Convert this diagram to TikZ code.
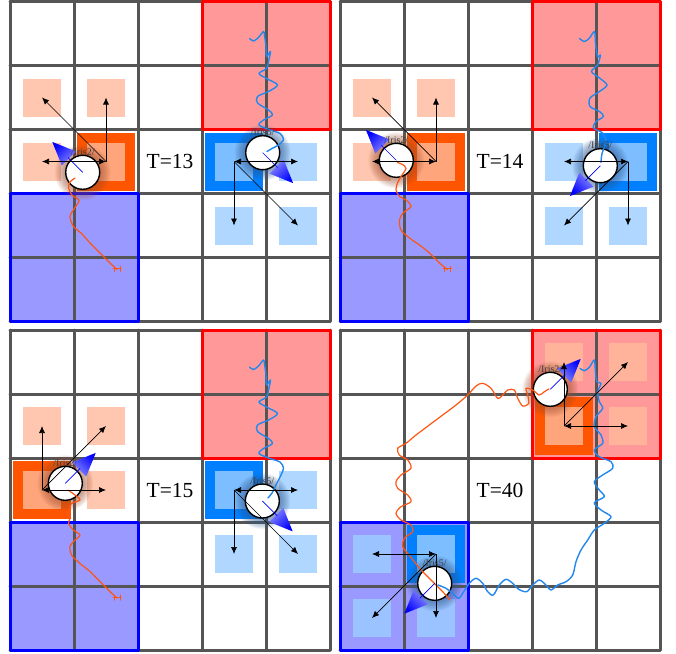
\documentclass[tikz,border=0pt]{standalone}
\usepackage{fontspec}
\setmainfont{Liberation Serif}
\usetikzlibrary{arrows.meta,calc}
\definecolor{gridc}{HTML}{555555}
\definecolor{redreg}{HTML}{FF9999}
\definecolor{bluereg}{HTML}{9999FF}
\definecolor{orcell}{HTML}{FF5500}
\definecolor{blcell}{HTML}{0080FF}
\definecolor{orlight}{HTML}{FFBA9C}
\definecolor{bllight}{HTML}{9CCEFF}
\definecolor{ortraj}{HTML}{FF5511}
\definecolor{bltraj}{HTML}{2288EE}
\definecolor{orhalo}{HTML}{A05030}
\definecolor{blhalo}{HTML}{305890}
\tikzset{
  gridline/.style={draw=gridc, line width=3pt, line cap=round},
  regborder/.style={line width=3pt, line join=round},
  act/.style={-{Latex[length=7pt,width=6pt]}, line width=0.7pt},
  actboth/.style={{Latex[length=7pt,width=6pt]}-{Latex[length=7pt,width=6pt]}, line width=0.7pt},
  agent/.style={circle, draw=black, fill=white, line width=1.4pt, minimum size=34pt, inner sep=0pt},
  namelabel/.style={font=\fontsize{10}{10}\selectfont, text=black!75, inner sep=0pt},
  tlabel/.style={font=\fontsize{21.5}{22}\selectfont, inner sep=0pt},
  otraj/.style={draw=ortraj, line width=1.2pt, line join=round, line cap=round},
  btraj/.style={draw=bltraj, line width=1.4pt, line join=round, line cap=round},
}
\newcommand{\regions}{%
  \fill[redreg] (192,0) rectangle (320,128);
  \fill[bluereg] (0,192) rectangle (128,320);}
\newcommand{\acell}[3]{\fill[#1] ({#2*64+3},{#3*64+3}) rectangle ({#2*64+61},{#3*64+61});}
\newcommand{\lsq}[3]{\fill[#1, opacity=0.8] ({#2*64+13},{#3*64+13}) rectangle ({#2*64+51},{#3*64+51});}
\newcommand{\gridandborders}{%
  \foreach \k in {0,...,5}{\draw[gridline] ({\k*64},0) -- ({\k*64},320); \draw[gridline] (0,{\k*64}) -- (320,{\k*64});}
  \draw[regborder, draw=red] (192,0) rectangle (320,128);
  \draw[regborder, draw=blue] (0,192) rectangle (128,320);}
\newcommand{\cellcoords}[1]{\foreach \i in {0,...,4}{\foreach \j in {0,...,4}{\coordinate (#1\i\j) at ({\i*64+32},{\j*64+32});}}}
\newcommand{\halo}[2]{\foreach \r in {18,...,28}{\fill[#2, opacity=0.07] (#1) circle[radius=\r pt];}}
\newcommand{\heading}[3]{%
  \shade[top color=blue, bottom color=blue!45, shading angle=#3] ($(#1.center)+(#2:43)$) -- ($(#1.center)+({#2+27}:22)$) -- ($(#1.center)+({#2-27}:22)$) -- cycle;
  \draw[blue, line width=0.7pt] (#1.center) -- ($(#1.center)+(#2:21)$);}
\newcommand{\omark}{\draw[otraj, line width=1pt] (103,267) -- (111,267) (104,267) -- (104,270) (110,265) -- (110,270);}
\begin{document}
\begin{tikzpicture}[x=1pt,y=-1pt]
\useasboundingbox (0,0) rectangle (676,653);
\fill[white] (0,0) rectangle (676,653);
%%%%%%%% Panel A : T=13
\begin{scope}[shift={(10,1.5)}]
  \regions
  \acell{orcell}{1}{2} \acell{blcell}{3}{2}
  \lsq{orlight}{0}{1} \lsq{orlight}{1}{1} \lsq{orlight}{0}{2} \lsq{orlight}{1}{2}
  \lsq{bllight}{4}{2} \lsq{bllight}{3}{3} \lsq{bllight}{4}{3} \lsq{bllight}{3}{2}
  \gridandborders
  \cellcoords{A}
  \coordinate (Aoc) at (72.7,170.8); \coordinate (Abc) at (252.7,151.2);
  \halo{Aoc}{orhalo} \halo{Abc}{blhalo}
  \node[agent] (Ao) at (Aoc) {};
  \node[agent] (Ab) at (Abc) {};
  \omark
  \draw[otraj] plot[smooth] coordinates {(107,268) (100,261.5) (90,251.5) (80,241.5) (71.5,232) (63.5,225) (60,215) (65,206) (69,199) (62,193.5) (58.5,186) (60,180.5) (65,176.5)};
  \draw[btraj] plot[smooth] coordinates {(239.5,37) (243.5,39.5) (248.5,36) (253.5,30) (254.5,34) (256,45) (256.5,55) (260.5,50) (258.5,60) (256.5,67) (249,72) (256.5,77) (267.5,83.5) (258.5,90) (247.5,95) (247.5,101.5) (258.5,108.5) (262.5,113.5) (253.5,118.5) (249,123.5) (260,128.5) (270,132) (273.5,138) (268.5,143.5) (262,147) (257,150)};
  \heading{Ao}{225}{45}
  \heading{Ab}{45}{-135}
  \draw[act] (A12) -- (A01);
  \draw[act] (A12) -- (A11);
  \draw[actboth] (A02) -- (A12);
  \draw[act] (A32) -- (A33);
  \draw[act] (A32) -- (A43);
  \draw[actboth] (A32) -- (A42);
  \node[namelabel] (AoL) at ($(Ao.center)+(0,-20)$) {/Iris2/};
  \node[namelabel] (AbL) at ($(Ab.center)+(0,-20)$) {/Iris5/};
  \node[tlabel] (AT) at (A22) {T=13};
\end{scope}
%%%%%%%% Panel B : T=14
\begin{scope}[shift={(340,1.5)}]
  \regions
  \acell{orcell}{1}{2} \acell{blcell}{4}{2}
  \lsq{orlight}{0}{1} \lsq{orlight}{1}{1} \lsq{orlight}{0}{2} \lsq{orlight}{1}{2}
  \lsq{bllight}{3}{2} \lsq{bllight}{3}{3} \lsq{bllight}{4}{3} \lsq{bllight}{4}{2}
  \gridandborders
  \cellcoords{B}
  \coordinate (Boc) at (56.3,158.8); \coordinate (Bbc) at (260.3,164.2);
  \halo{Boc}{orhalo} \halo{Bbc}{blhalo}
  \node[agent] (Bo) at (Boc) {};
  \node[agent] (Bb) at (Bbc) {};
  \omark
  \draw[otraj] plot[smooth] coordinates {(107.5,268) (99.5,261.5) (89.5,251.5) (79.5,243.5) (69.5,236.5) (61,228.5) (59.5,218.5) (63,211.5) (71,205) (66,198.5) (59.5,195) (56,188.5) (57.5,181.5) (61,175) (66,167) (62.5,163) (57.5,161)};
  \draw[btraj] plot[smooth] coordinates {(239.5,37) (244.5,40) (249.5,36.5) (254.5,30) (255.5,41.5) (257.5,55) (260.5,53.5) (257.5,63.5) (251.5,70) (259.5,76.5) (267,83.5) (259.5,90) (250,96.5) (250,105) (259.5,110) (263.5,115) (256,120) (253.5,126.5) (262.5,131.5) (266,140) (262,152) (261,161)};
  \heading{Bo}{225}{45}
  \heading{Bb}{135}{135}
  \draw[act] (B12) -- (B01);
  \draw[act] (B12) -- (B11);
  \draw[actboth] (B02) -- (B12);
  \draw[act] (B42) -- (B33);
  \draw[act] (B42) -- (B43);
  \draw[actboth] (B32) -- (B42);
  \node[namelabel] (BoL) at ($(Bo.center)+(0,-20)$) {/Iris2/};
  \node[namelabel] (BbL) at ($(Bb.center)+(0,-20)$) {/Iris5/};
  \node[tlabel] (BT) at (B22) {T=14};
\end{scope}
%%%%%%%% Panel C : T=15
\begin{scope}[shift={(10,330)}]
  \regions
  \acell{orcell}{0}{2} \acell{blcell}{3}{2}
  \lsq{orlight}{0}{1} \lsq{orlight}{1}{1} \lsq{orlight}{1}{2} \lsq{orlight}{0}{2}
  \lsq{bllight}{4}{2} \lsq{bllight}{3}{3} \lsq{bllight}{4}{3} \lsq{bllight}{3}{2}
  \gridandborders
  \cellcoords{C}
  \coordinate (Coc) at (55.3,153.3); \coordinate (Cbc) at (252.3,171);
  \halo{Coc}{orhalo} \halo{Cbc}{blhalo}
  \node[agent] (Co) at (Coc) {};
  \node[agent] (Cb) at (Cbc) {};
  \omark
  \draw[otraj] plot[smooth] coordinates {(107,268) (100,261.5) (90,251.5) (80,241.5) (70,233.5) (61.5,225) (60,216.5) (65,210) (70,205) (63.5,200) (58.5,193.5) (60,188.5) (58.5,181.5) (61.5,173.5) (70,170) (65,165) (58,160)};
  \draw[btraj] plot[smooth] coordinates {(239.5,37) (243.5,39.5) (248.5,36) (253.5,30) (254.5,34) (256,45) (256.5,55) (260.5,50) (258.5,60) (256.5,67) (249,72) (256.5,77) (267.5,83.5) (258.5,90) (247.5,95) (247.5,101.5) (258.5,108.5) (262.5,113.5) (253.5,118.5) (249,123.5) (260,128.5) (270,132) (273.5,138) (271,145) (266,155) (262,163) (258,168)};
  \heading{Co}{315}{-45}
  \heading{Cb}{45}{-135}
  \draw[act] (C02) -- (C01);
  \draw[act] (C02) -- (C11);
  \draw[actboth] (C02) -- (C12);
  \draw[act] (C32) -- (C33);
  \draw[act] (C32) -- (C43);
  \draw[actboth] (C32) -- (C42);
  \node[namelabel] (CoL) at ($(Co.center)+(0,-20)$) {/Iris2/};
  \node[namelabel] (CbL) at ($(Cb.center)+(0,-20)$) {/Iris5/};
  \node[tlabel] (CT) at (C22) {T=15};
\end{scope}
%%%%%%%% Panel D : T=40
\begin{scope}[shift={(340,330)}]
  \regions
  \acell{orcell}{3}{1} \acell{blcell}{1}{3}
  \lsq{orlight}{3}{0} \lsq{orlight}{4}{0} \lsq{orlight}{4}{1} \lsq{orlight}{3}{1}
  \lsq{bllight}{0}{3} \lsq{bllight}{0}{4} \lsq{bllight}{1}{4} \lsq{bllight}{1}{3}
  \gridandborders
  \cellcoords{D}
  \coordinate (Doc) at (210.3,59.3); \coordinate (Dbc) at (94.7,253.3);
  \halo{Doc}{orhalo} \halo{Dbc}{blhalo}
  \node[agent] (Do) at (Doc) {};
  \node[agent] (Db) at (Dbc) {};
  \draw[otraj] plot[smooth] coordinates {(110,270) (102.7,261.7) (92.7,251.7) (82.7,241.7) (74.3,231.7) (67.7,223.3) (62.7,216.7) (64.3,208.3) (72.7,201.7) (71,195) (61,190) (56,183.3) (61,176.7) (71,171.7) (67.7,165) (57.7,158.3) (56,151.7) (61,145) (71,138.3) (67.7,130) (59.3,125) (57.7,118.3) (66,113.3) (76,105) (89.3,95) (102.7,85) (116,75) (127.7,65) (136,56) (142.7,53.3) (151,58.3) (157.7,68.3) (162.7,65) (167.7,60) (174.3,60) (177.7,68.3) (182.7,76) (188.7,73.3) (187.7,65) (186,58.3) (192.7,60) (199.3,65) (204.3,61.7) (209,59)};
  \draw[btraj] plot[smooth] coordinates {(240,38.3) (244.3,40.7) (249.3,37.3) (254.3,30) (255.3,40) (256.7,51.7) (261,53.3) (257.7,61.7) (259.3,71.7) (262.7,78.3) (256,86.7) (254.3,96.7) (261,105) (262.7,113.3) (254.3,120) (259.3,126.7) (271,131.7) (272.7,138.3) (262.7,145) (254.3,151.7) (259.3,160) (264.3,166.7) (254.3,172.7) (261,180) (271,186.7) (264.3,193.3) (254.3,200) (247.7,210) (241,220) (236,231.7) (232.7,245) (226,251.7) (217.7,255) (211,260) (206,255) (199.3,250) (192.7,255) (186.7,261.7) (178.7,259.3) (172.7,253.3) (166,249.3) (159.3,255) (153.3,265) (147.7,261.7) (142.7,253.3) (136,248.3) (129.3,253.3) (124.3,260.7) (118.7,268.3) (112.7,263.3) (106,258.3) (98,255)};
  \heading{Do}{315}{-45}
  \heading{Db}{135}{135}
  \draw[act] (D31) -- (D30);
  \draw[act] (D31) -- (D40);
  \draw[actboth] (D31) -- (D41);
  \draw[act] (D13) -- (D04);
  \draw[act] (D13) -- (D14);
  \draw[actboth] (D03) -- (D13);
  \node[namelabel] (DoL) at ($(Do.center)+(0,-20)$) {/Iris2/};
  \node[namelabel] (DbL) at ($(Db.center)+(0,-20)$) {/Iris5/};
  \node[tlabel] (DT) at (D22) {T=40};
\end{scope}
\end{tikzpicture}
\end{document}
